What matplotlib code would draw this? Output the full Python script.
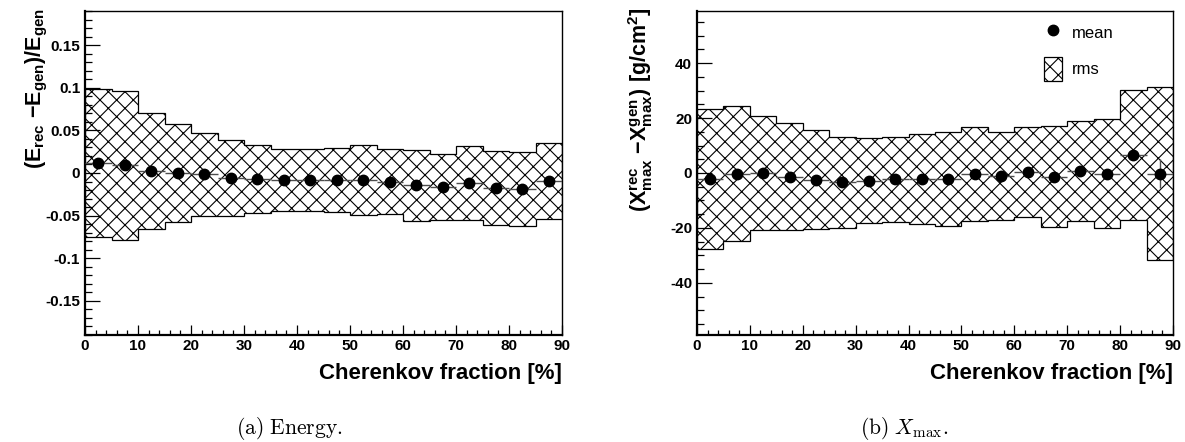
import numpy as np
import matplotlib
matplotlib.use('Agg')
import matplotlib.pyplot as plt
from matplotlib.lines import Line2D
from matplotlib.patches import Patch
from matplotlib.ticker import MultipleLocator, FormatStrFormatter

plt.rcParams['font.family'] = ['Liberation Sans', 'DejaVu Sans']
plt.rcParams['mathtext.fontset'] = 'custom'
plt.rcParams['mathtext.rm'] = 'Liberation Sans:bold'
plt.rcParams['mathtext.bf'] = 'Liberation Sans:bold'
plt.rcParams['mathtext.it'] = 'Liberation Sans:bold'
plt.rcParams['axes.unicode_minus'] = False
plt.rcParams['hatch.linewidth'] = 0.8

# Cherenkov fraction bins [%]
bin_edges = np.arange(0, 95, 5)

# energy: mean and rms of (E_rec - E_gen)/E_gen
e_mean = [0.0115, 0.0088, 0.0028, 0.0002, -0.0016, -0.0061, -0.0071, -0.0083, -0.0084,
          -0.0084, -0.0083, -0.0102, -0.0146, -0.0165, -0.0117, -0.0175, -0.0186, -0.0097]
e_err = [0.0012] * 18
e_rms = [0.0868, 0.0878, 0.0679, 0.0575, 0.0489, 0.0449, 0.0397, 0.0368, 0.0365,
         0.0375, 0.0408, 0.0380, 0.0413, 0.0388, 0.0429, 0.0435, 0.0430, 0.0443]

# Xmax: mean and rms of Xmax_rec - Xmax_gen [g/cm2]
x_mean = [-2.1, -0.3, -0.1, -1.3, -2.4, -3.3, -2.8, -2.3, -2.1,
          -2.2, -0.4, -1.0, 0.3, -1.3, 0.7, -0.25, 6.6, -0.25]
x_err = [0.5] * 16 + [0.9, 5.2]
x_rms = [25.45, 24.55, 20.7, 19.55, 17.95, 16.55, 15.45, 15.4, 16.3,
         17.25, 17.15, 15.95, 16.35, 18.3, 18.2, 19.85, 23.75, 31.55]

W, H = 1185, 442
fig = plt.figure(figsize=(W / 100, H / 100), dpi=100)
ax1 = fig.add_axes([85 / W, 1 - 335 / H, 477 / W, 324 / H])
ax2 = fig.add_axes([697 / W, 1 - 335 / H, 476 / W, 324 / H])

centers = bin_edges[:-1] + 2.5


def panel(ax, mean, err, rms, ylim, ymaj, ymin, ylabel, lab_x):
    mean = np.asarray(mean)
    rms = np.asarray(rms)
    ax.stairs(mean + rms, bin_edges, baseline=mean - rms, fill=True,
              facecolor='white', edgecolor='black', hatch='xx', lw=0.9, zorder=1)
    ax.errorbar(centers, mean, xerr=2.5, yerr=err, fmt='o', color='black', ms=7.5,
                ecolor='0.3', elinewidth=1.0, capsize=0, zorder=3)
    ax.set_xlim(0, 90)
    ax.set_ylim(*ylim)
    ax.xaxis.set_major_locator(MultipleLocator(10))
    ax.xaxis.set_minor_locator(MultipleLocator(2))
    ax.yaxis.set_major_locator(MultipleLocator(ymaj))
    ax.yaxis.set_minor_locator(MultipleLocator(ymin))
    ax.yaxis.set_major_formatter(FormatStrFormatter('%g'))
    ax.tick_params(which='both', direction='in', top=False, right=False, width=0.9,
                   labelsize=11, color='black')
    ax.tick_params(axis='x', which='major', length=7.2, pad=3)
    ax.tick_params(axis='x', which='minor', length=3.6)
    ax.tick_params(axis='y', which='major', length=10.5, pad=3.5)
    ax.tick_params(axis='y', which='minor', length=5)
    for t in ax.get_xticklabels() + ax.get_yticklabels():
        t.set_fontweight('bold')
    for s in ('left', 'bottom'):
        ax.spines[s].set_linewidth(1.6)
    for s in ('top', 'right'):
        ax.spines[s].set_linewidth(1.0)
    ax.set_xlabel('Cherenkov fraction [%]', fontsize=16, fontweight='bold', loc='right')
    ax.xaxis.set_label_coords(1.0, -0.085)
    ax.set_ylabel(ylabel, fontsize=15.5, loc='top')
    ax.yaxis.set_label_coords(lab_x, 1.01)


panel(ax1, e_mean, e_err, e_rms, (-0.19, 0.19), 0.05, 0.01,
      r'$\mathrm{(E_{rec}\ {-}E_{gen})/E_{gen}}$', -0.074)
panel(ax2, x_mean, x_err, x_rms, (-59, 59), 20, 5,
      r'$\mathrm{(X^{rec}_{max}\ {-}X^{gen}_{max})\ [g/cm^{2}]}$', -0.088)

handles = [Line2D([], [], ls='none', marker='o', color='black', ms=7.5),
           Patch(facecolor='white', edgecolor='black', hatch='xx', lw=0.9)]
leg = ax2.legend(handles, ['mean', 'rms'], loc='upper left', frameon=False,
                 bbox_to_anchor=(1044 / W, 1 - 21 / H), bbox_transform=fig.transFigure,
                 borderpad=0, borderaxespad=0, handlelength=1.1, handleheight=1.85,
                 labelspacing=0.7, handletextpad=0.6, prop={'size': 12})

fig.text(289 / W, 1 - 429 / H, r'$\mathrm{(a)\ Energy.}$', math_fontfamily='cm',
         fontsize=15.5, ha='center', va='center')
fig.text(904 / W, 1 - 429 / H, r'$\mathrm{(b)}\ X_{\mathrm{max}}.$', math_fontfamily='cm',
         fontsize=15.5, ha='center', va='center')

fig.savefig('out.png', dpi=100)
